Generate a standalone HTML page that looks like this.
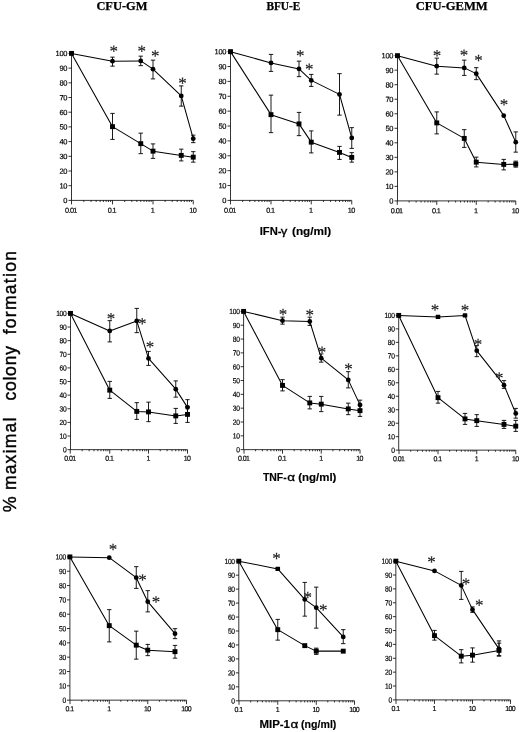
<!DOCTYPE html>
<html lang="en">
<head>
<meta charset="utf-8">
<title>Colony formation figure</title>
<style>
html,body{margin:0;padding:0;background:#fff;}
body{width:520px;height:732px;overflow:hidden;}
svg{display:block;filter:blur(0.35px);}
.tl text{font-family:"Liberation Sans",sans-serif;fill:#000;letter-spacing:-0.3px;stroke:#000;stroke-width:0.18px;}
.st text{font-family:"Liberation Serif",serif;fill:#222;stroke:#222;stroke-width:0.15px;}
.ttl text{font-family:"Liberation Serif",serif;font-weight:bold;fill:#000;stroke:#000;stroke-width:0.25px;}
.xl text{font-family:"Liberation Sans",sans-serif;font-weight:bold;fill:#000;stroke:#000;stroke-width:0.15px;}
.xl text.gk{font-weight:normal;stroke-width:0.3px;}
.xtl text{letter-spacing:-0.6px;}
.yl text{font-family:"Liberation Sans",sans-serif;fill:#000;stroke:#000;stroke-width:0.4px;}
</style>
</head>
<body>
<svg width="520" height="732" viewBox="0 0 520 732">
<rect width="520" height="732" fill="#fff"/>
<g class="ttl" font-size="11.5">
<text x="96.4" y="9.7" textLength="51" lengthAdjust="spacingAndGlyphs">CFU-GM</text>
<text x="266.4" y="9.7" textLength="34" lengthAdjust="spacingAndGlyphs">BFU-E</text>
<text x="415.7" y="9.7" textLength="72" lengthAdjust="spacingAndGlyphs">CFU-GEMM</text>
</g>
<g class="xl" font-size="10.8">
<text font-size="11.4" x="259.7" y="235.4" textLength="21.8" lengthAdjust="spacingAndGlyphs">IFN-</text>
<text class="gk" x="280.7" y="235.4" font-size="11.5" textLength="6.6" lengthAdjust="spacingAndGlyphs">γ</text>
<text font-size="11.4" x="292" y="235.4" textLength="39.2" lengthAdjust="spacingAndGlyphs">(ng/ml)</text>
<text x="262.9" y="480.6" textLength="23.8" lengthAdjust="spacingAndGlyphs">TNF-</text>
<text class="gk" x="287.3" y="480.6" font-size="10.5" textLength="7.8" lengthAdjust="spacingAndGlyphs">α</text>
<text x="298.2" y="480.6" textLength="38.2" lengthAdjust="spacingAndGlyphs">(ng/ml)</text>
<text x="259.4" y="727.8" textLength="30.6" lengthAdjust="spacingAndGlyphs">MIP-1</text>
<text class="gk" x="290.5" y="727.8" font-size="10.5" textLength="7.8" lengthAdjust="spacingAndGlyphs">α</text>
<text x="301.1" y="727.8" textLength="35.3" lengthAdjust="spacingAndGlyphs">(ng/ml)</text>
</g>
<g class="yl" font-size="17.5">
<text transform="translate(16 512.2) rotate(-90)" textLength="16" lengthAdjust="spacingAndGlyphs">%</text>
<text transform="translate(16 490.1) rotate(-90)" textLength="72.4" lengthAdjust="spacing">maximal</text>
<text transform="translate(16 400.6) rotate(-90)" textLength="54.5" lengthAdjust="spacing">colony</text>
<text transform="translate(16 334.3) rotate(-90)" textLength="83.2" lengthAdjust="spacing">formation</text>
</g>
<g transform="translate(0 0.15)">
<path d="M71.5 53.25V200.25H193.25" fill="none" stroke="#000" stroke-width="0.8"/>
<path d="M68.5 200.25H71.5M68.5 185.55H71.5M68.5 170.85H71.5M68.5 156.15H71.5M68.5 141.45H71.5M68.5 126.75H71.5M68.5 112.05H71.5M68.5 97.35H71.5M68.5 82.65H71.5M68.5 67.95H71.5M68.5 53.25H71.5M71.5 200.25v4.0M83.84 200.25v1.6M91.06 200.25v1.6M96.18 200.25v1.6M100.16 200.25v1.6M103.4 200.25v1.6M106.15 200.25v1.6M108.53 200.25v1.6M110.62 200.25v1.6M112.5 200.25v4.0M124.69 200.25v1.6M131.82 200.25v1.6M136.88 200.25v1.6M140.81 200.25v1.6M144.02 200.25v1.6M146.73 200.25v1.6M149.08 200.25v1.6M151.15 200.25v1.6M153 200.25v4.0M165.12 200.25v1.6M172.2 200.25v1.6M177.23 200.25v1.6M181.13 200.25v1.6M184.32 200.25v1.6M187.02 200.25v1.6M189.35 200.25v1.6M191.41 200.25v1.6M193.25 200.25v4.0" fill="none" stroke="#000" stroke-width="0.8"/>
<g font-size="7.5" text-anchor="end" class="tl">
<text transform="translate(67.2 202.95) rotate(0.03)">0</text>
<text transform="translate(67.2 188.25) rotate(0.03)">10</text>
<text transform="translate(67.2 173.55) rotate(0.03)">20</text>
<text transform="translate(67.2 158.85) rotate(0.03)">30</text>
<text transform="translate(67.2 144.15) rotate(0.03)">40</text>
<text transform="translate(67.2 129.45) rotate(0.03)">50</text>
<text transform="translate(67.2 114.75) rotate(0.03)">60</text>
<text transform="translate(67.2 100.05) rotate(0.03)">70</text>
<text transform="translate(67.2 85.35) rotate(0.03)">80</text>
<text transform="translate(67.2 70.65) rotate(0.03)">90</text>
<text transform="translate(67.2 55.95) rotate(0.03)">100</text>
</g>
<g font-size="7.3" text-anchor="middle" class="tl xtl">
<text transform="translate(70.9 212.65) rotate(0.03)">0.01</text>
<text transform="translate(111.9 212.65) rotate(0.03)">0.1</text>
<text transform="translate(152.4 212.65) rotate(0.03)">1</text>
<text transform="translate(192.65 212.65) rotate(0.03)">10</text>
</g>
<path d="M71.5 53.25L112.5 126.5L140.75 143.5L153 151L181.25 155.25L193.25 157" fill="none" stroke="#000" stroke-width="1.05" stroke-linejoin="round"/>
<path d="M112.5 113.25V139.25M110.3 113.25h4.4M110.3 139.25h4.4M140.75 133V153.5M138.55 133h4.4M138.55 153.5h4.4M153 143.75V158.25M150.8 143.75h4.4M150.8 158.25h4.4M181.25 149V160.75M179.05 149h4.4M179.05 160.75h4.4M193.25 151.5V162M191.05 151.5h4.4M191.05 162h4.4" fill="none" stroke="#000" stroke-width="0.9"/>
<rect x="110.05" y="124.05" width="4.9" height="4.9" fill="#000"/>
<rect x="138.3" y="141.05" width="4.9" height="4.9" fill="#000"/>
<rect x="150.55" y="148.55" width="4.9" height="4.9" fill="#000"/>
<rect x="178.8" y="152.8" width="4.9" height="4.9" fill="#000"/>
<rect x="190.8" y="154.55" width="4.9" height="4.9" fill="#000"/>
<path d="M71.5 53.25L112.5 61L140.75 60.75L153 69L181.25 95.75L193.25 138.5" fill="none" stroke="#000" stroke-width="1.05" stroke-linejoin="round"/>
<path d="M112.5 57V66M110.3 57h4.4M110.3 66h4.4M140.75 56V65.5M138.55 56h4.4M138.55 65.5h4.4M153 60V78.75M150.8 60h4.4M150.8 78.75h4.4M181.25 85.75V106M179.05 85.75h4.4M179.05 106h4.4M193.25 135V142.5M191.05 135h4.4M191.05 142.5h4.4" fill="none" stroke="#000" stroke-width="0.9"/>
<circle cx="112.5" cy="61" r="2.4" fill="#000"/>
<circle cx="140.75" cy="60.75" r="2.4" fill="#000"/>
<circle cx="153" cy="69" r="2.4" fill="#000"/>
<circle cx="181.25" cy="95.75" r="2.4" fill="#000"/>
<circle cx="193.25" cy="138.5" r="2.4" fill="#000"/>
<rect x="69.05" y="50.8" width="4.9" height="4.9" fill="#000"/>
<g class="st" font-size="17.0" text-anchor="middle">
<text transform="translate(113.75 56.66) rotate(0.03)">*</text>
<text transform="translate(141.75 56.66) rotate(0.03)">*</text>
<text transform="translate(155.25 61.41) rotate(0.03)">*</text>
<text transform="translate(182.5 88.66) rotate(0.03)">*</text>
</g>
</g>
<g transform="translate(0 0.15)">
<path d="M230.5 51.5V200.25H351.75" fill="none" stroke="#000" stroke-width="0.8"/>
<path d="M227.5 200.25H230.5M227.5 185.38H230.5M227.5 170.5H230.5M227.5 155.62H230.5M227.5 140.75H230.5M227.5 125.88H230.5M227.5 111H230.5M227.5 96.12H230.5M227.5 81.25H230.5M227.5 66.38H230.5M227.5 51.5H230.5M230.5 200.25v4.0M242.69 200.25v1.6M249.82 200.25v1.6M254.88 200.25v1.6M258.81 200.25v1.6M262.02 200.25v1.6M264.73 200.25v1.6M267.08 200.25v1.6M269.15 200.25v1.6M271 200.25v4.0M283.12 200.25v1.6M290.2 200.25v1.6M295.23 200.25v1.6M299.13 200.25v1.6M302.32 200.25v1.6M305.02 200.25v1.6M307.35 200.25v1.6M309.41 200.25v1.6M311.25 200.25v4.0M323.44 200.25v1.6M330.57 200.25v1.6M335.63 200.25v1.6M339.56 200.25v1.6M342.77 200.25v1.6M345.48 200.25v1.6M347.83 200.25v1.6M349.9 200.25v1.6M351.75 200.25v4.0" fill="none" stroke="#000" stroke-width="0.8"/>
<g font-size="7.5" text-anchor="end" class="tl">
<text transform="translate(226.2 202.95) rotate(0.03)">0</text>
<text transform="translate(226.2 188.07) rotate(0.03)">10</text>
<text transform="translate(226.2 173.2) rotate(0.03)">20</text>
<text transform="translate(226.2 158.32) rotate(0.03)">30</text>
<text transform="translate(226.2 143.45) rotate(0.03)">40</text>
<text transform="translate(226.2 128.57) rotate(0.03)">50</text>
<text transform="translate(226.2 113.7) rotate(0.03)">60</text>
<text transform="translate(226.2 98.83) rotate(0.03)">70</text>
<text transform="translate(226.2 83.95) rotate(0.03)">80</text>
<text transform="translate(226.2 69.08) rotate(0.03)">90</text>
<text transform="translate(226.2 54.2) rotate(0.03)">100</text>
</g>
<g font-size="7.3" text-anchor="middle" class="tl xtl">
<text transform="translate(229.9 212.65) rotate(0.03)">0.01</text>
<text transform="translate(270.4 212.65) rotate(0.03)">0.1</text>
<text transform="translate(310.65 212.65) rotate(0.03)">1</text>
<text transform="translate(351.15 212.65) rotate(0.03)">10</text>
</g>
<path d="M230.5 51.5L271 114.5L299 123.75L311.25 142L339.5 152.25L351.75 157.25" fill="none" stroke="#000" stroke-width="1.05" stroke-linejoin="round"/>
<path d="M271 95V132.5M268.8 95h4.4M268.8 132.5h4.4M299 112.25V135.5M296.8 112.25h4.4M296.8 135.5h4.4M311.25 130.75V152.75M309.05 130.75h4.4M309.05 152.75h4.4M339.5 146.25V159.25M337.3 146.25h4.4M337.3 159.25h4.4M351.75 152.5V162M349.55 152.5h4.4M349.55 162h4.4" fill="none" stroke="#000" stroke-width="0.9"/>
<rect x="268.55" y="112.05" width="4.9" height="4.9" fill="#000"/>
<rect x="296.55" y="121.3" width="4.9" height="4.9" fill="#000"/>
<rect x="308.8" y="139.55" width="4.9" height="4.9" fill="#000"/>
<rect x="337.05" y="149.8" width="4.9" height="4.9" fill="#000"/>
<rect x="349.3" y="154.8" width="4.9" height="4.9" fill="#000"/>
<path d="M230.5 51.5L271 62.75L299 68.75L311.25 80.25L339.5 94.25L351.75 137.75" fill="none" stroke="#000" stroke-width="1.05" stroke-linejoin="round"/>
<path d="M271 54.25V71.25M268.8 54.25h4.4M268.8 71.25h4.4M299 61V76.5M296.8 61h4.4M296.8 76.5h4.4M311.25 74.25V86.25M309.05 74.25h4.4M309.05 86.25h4.4M339.5 73.5V115M337.3 73.5h4.4M337.3 115h4.4M351.75 127.5V148.25M349.55 127.5h4.4M349.55 148.25h4.4" fill="none" stroke="#000" stroke-width="0.9"/>
<circle cx="271" cy="62.75" r="2.4" fill="#000"/>
<circle cx="299" cy="68.75" r="2.4" fill="#000"/>
<circle cx="311.25" cy="80.25" r="2.4" fill="#000"/>
<circle cx="339.5" cy="94.25" r="2.4" fill="#000"/>
<circle cx="351.75" cy="137.75" r="2.4" fill="#000"/>
<rect x="228.05" y="49.05" width="4.9" height="4.9" fill="#000"/>
<g class="st" font-size="17.0" text-anchor="middle">
<text transform="translate(300.25 61.16) rotate(0.03)">*</text>
<text transform="translate(309.25 74.66) rotate(0.03)">*</text>
</g>
</g>
<g transform="translate(0 0.15)">
<path d="M397.5 55.5V200.75H515.75" fill="none" stroke="#000" stroke-width="0.8"/>
<path d="M394.5 200.75H397.5M394.5 186.22H397.5M394.5 171.7H397.5M394.5 157.18H397.5M394.5 142.65H397.5M394.5 128.12H397.5M394.5 113.6H397.5M394.5 99.08H397.5M394.5 84.55H397.5M394.5 70.03H397.5M394.5 55.5H397.5M397.25 200.75v4.0M409.14 200.75v1.6M416.1 200.75v1.6M421.03 200.75v1.6M424.86 200.75v1.6M427.99 200.75v1.6M430.63 200.75v1.6M432.92 200.75v1.6M434.94 200.75v1.6M436.75 200.75v4.0M448.64 200.75v1.6M455.6 200.75v1.6M460.53 200.75v1.6M464.36 200.75v1.6M467.49 200.75v1.6M470.13 200.75v1.6M472.42 200.75v1.6M474.44 200.75v1.6M476.25 200.75v4.0M488.14 200.75v1.6M495.1 200.75v1.6M500.03 200.75v1.6M503.86 200.75v1.6M506.99 200.75v1.6M509.63 200.75v1.6M511.92 200.75v1.6M513.94 200.75v1.6M515.75 200.75v4.0" fill="none" stroke="#000" stroke-width="0.8"/>
<g font-size="7.5" text-anchor="end" class="tl">
<text transform="translate(393.2 203.45) rotate(0.03)">0</text>
<text transform="translate(393.2 188.92) rotate(0.03)">10</text>
<text transform="translate(393.2 174.4) rotate(0.03)">20</text>
<text transform="translate(393.2 159.88) rotate(0.03)">30</text>
<text transform="translate(393.2 145.35) rotate(0.03)">40</text>
<text transform="translate(393.2 130.82) rotate(0.03)">50</text>
<text transform="translate(393.2 116.3) rotate(0.03)">60</text>
<text transform="translate(393.2 101.78) rotate(0.03)">70</text>
<text transform="translate(393.2 87.25) rotate(0.03)">80</text>
<text transform="translate(393.2 72.73) rotate(0.03)">90</text>
<text transform="translate(393.2 58.2) rotate(0.03)">100</text>
</g>
<g font-size="7.3" text-anchor="middle" class="tl xtl">
<text transform="translate(396.65 213.15) rotate(0.03)">0.01</text>
<text transform="translate(436.15 213.15) rotate(0.03)">0.1</text>
<text transform="translate(475.65 213.15) rotate(0.03)">1</text>
<text transform="translate(515.15 213.15) rotate(0.03)">10</text>
</g>
<path d="M397.5 55.5L436.75 122.75L464.25 138.25L476.25 162L503.75 164.25L515.75 164" fill="none" stroke="#000" stroke-width="1.05" stroke-linejoin="round"/>
<path d="M436.75 111.75V133.75M434.55 111.75h4.4M434.55 133.75h4.4M464.25 129.5V147.25M462.05 129.5h4.4M462.05 147.25h4.4M476.25 157V166.75M474.05 157h4.4M474.05 166.75h4.4M503.75 159.25V169.75M501.55 159.25h4.4M501.55 169.75h4.4M515.75 161V167M513.55 161h4.4M513.55 167h4.4" fill="none" stroke="#000" stroke-width="0.9"/>
<rect x="434.3" y="120.3" width="4.9" height="4.9" fill="#000"/>
<rect x="461.8" y="135.8" width="4.9" height="4.9" fill="#000"/>
<rect x="473.8" y="159.55" width="4.9" height="4.9" fill="#000"/>
<rect x="501.3" y="161.8" width="4.9" height="4.9" fill="#000"/>
<rect x="513.3" y="161.55" width="4.9" height="4.9" fill="#000"/>
<path d="M397.5 55.5L436.75 66L464.25 67.75L476.25 73.5L503.75 115.5L515.75 142" fill="none" stroke="#000" stroke-width="1.05" stroke-linejoin="round"/>
<path d="M436.75 58V74M434.55 58h4.4M434.55 74h4.4M464.25 60V75.25M462.05 60h4.4M462.05 75.25h4.4M476.25 67.5V79.5M474.05 67.5h4.4M474.05 79.5h4.4M515.75 131.75V152M513.55 131.75h4.4M513.55 152h4.4" fill="none" stroke="#000" stroke-width="0.9"/>
<circle cx="436.75" cy="66" r="2.4" fill="#000"/>
<circle cx="464.25" cy="67.75" r="2.4" fill="#000"/>
<circle cx="476.25" cy="73.5" r="2.4" fill="#000"/>
<circle cx="503.75" cy="115.5" r="2.4" fill="#000"/>
<circle cx="515.75" cy="142" r="2.4" fill="#000"/>
<rect x="395.05" y="53.05" width="4.9" height="4.9" fill="#000"/>
<g class="st" font-size="17.0" text-anchor="middle">
<text transform="translate(437 61.16) rotate(0.03)">*</text>
<text transform="translate(464 60.66) rotate(0.03)">*</text>
<text transform="translate(478.5 65.91) rotate(0.03)">*</text>
<text transform="translate(504 110.16) rotate(0.03)">*</text>
</g>
</g>
<g transform="translate(0 0.15)">
<path d="M70.5 313.25V449.5H187.5" fill="none" stroke="#000" stroke-width="0.8"/>
<path d="M67.5 449.5H70.5M67.5 435.88H70.5M67.5 422.25H70.5M67.5 408.62H70.5M67.5 395H70.5M67.5 381.38H70.5M67.5 367.75H70.5M67.5 354.12H70.5M67.5 340.5H70.5M67.5 326.88H70.5M67.5 313.25H70.5M70.25 449.5v4.0M82.14 449.5v1.6M89.1 449.5v1.6M94.03 449.5v1.6M97.86 449.5v1.6M100.99 449.5v1.6M103.63 449.5v1.6M105.92 449.5v1.6M107.94 449.5v1.6M109.75 449.5v4.0M121.41 449.5v1.6M128.24 449.5v1.6M133.08 449.5v1.6M136.84 449.5v1.6M139.9 449.5v1.6M142.5 449.5v1.6M144.74 449.5v1.6M146.73 449.5v1.6M148.5 449.5v4.0M160.24 449.5v1.6M167.11 449.5v1.6M171.98 449.5v1.6M175.76 449.5v1.6M178.85 449.5v1.6M181.46 449.5v1.6M183.72 449.5v1.6M185.72 449.5v1.6M187.5 449.5v4.0" fill="none" stroke="#000" stroke-width="0.8"/>
<g font-size="7.5" text-anchor="end" class="tl">
<text transform="translate(66.5 452.2) rotate(0.03) scale(0.89 1)">0</text>
<text transform="translate(66.5 438.57) rotate(0.03) scale(0.89 1)">10</text>
<text transform="translate(66.5 424.95) rotate(0.03) scale(0.89 1)">20</text>
<text transform="translate(66.5 411.32) rotate(0.03) scale(0.89 1)">30</text>
<text transform="translate(66.5 397.7) rotate(0.03) scale(0.89 1)">40</text>
<text transform="translate(66.5 384.07) rotate(0.03) scale(0.89 1)">50</text>
<text transform="translate(66.5 370.45) rotate(0.03) scale(0.89 1)">60</text>
<text transform="translate(66.5 356.82) rotate(0.03) scale(0.89 1)">70</text>
<text transform="translate(66.5 343.2) rotate(0.03) scale(0.89 1)">80</text>
<text transform="translate(66.5 329.57) rotate(0.03) scale(0.89 1)">90</text>
<text transform="translate(66.5 315.95) rotate(0.03) scale(0.89 1)">100</text>
</g>
<g font-size="7.3" text-anchor="middle" class="tl xtl">
<text transform="translate(69.85 460.6) rotate(0.03) scale(0.96 1)">0.01</text>
<text transform="translate(109.35 460.6) rotate(0.03) scale(0.96 1)">0.1</text>
<text transform="translate(148.1 460.6) rotate(0.03) scale(0.96 1)">1</text>
<text transform="translate(187.1 460.6) rotate(0.03) scale(0.96 1)">10</text>
</g>
<path d="M70.5 313.25L109.75 390L136.75 411.25L148.5 411.75L175.75 415.75L187.5 414.25" fill="none" stroke="#000" stroke-width="1.05" stroke-linejoin="round"/>
<path d="M109.75 381.25V398.25M107.55 381.25h4.4M107.55 398.25h4.4M136.75 402.5V419.25M134.55 402.5h4.4M134.55 419.25h4.4M148.5 402V421.5M146.3 402h4.4M146.3 421.5h4.4M175.75 408.25V423.25M173.55 408.25h4.4M173.55 423.25h4.4M187.5 406.25V422.25M185.3 406.25h4.4M185.3 422.25h4.4" fill="none" stroke="#000" stroke-width="0.9"/>
<rect x="107.3" y="387.55" width="4.9" height="4.9" fill="#000"/>
<rect x="134.3" y="408.8" width="4.9" height="4.9" fill="#000"/>
<rect x="146.05" y="409.3" width="4.9" height="4.9" fill="#000"/>
<rect x="173.3" y="413.3" width="4.9" height="4.9" fill="#000"/>
<rect x="185.05" y="411.8" width="4.9" height="4.9" fill="#000"/>
<path d="M70.5 313.25L109.75 330.75L136.75 320.75L148.5 358.25L175.75 389L187.5 407.25" fill="none" stroke="#000" stroke-width="1.05" stroke-linejoin="round"/>
<path d="M109.75 320.5V341.75M107.55 320.5h4.4M107.55 341.75h4.4M136.75 308.25V332.5M134.55 308.25h4.4M134.55 332.5h4.4M148.5 351.25V365.25M146.3 351.25h4.4M146.3 365.25h4.4M175.75 380.75V397M173.55 380.75h4.4M173.55 397h4.4M187.5 399.5V414M185.3 399.5h4.4M185.3 414h4.4" fill="none" stroke="#000" stroke-width="0.9"/>
<circle cx="109.75" cy="330.75" r="2.4" fill="#000"/>
<circle cx="136.75" cy="320.75" r="2.4" fill="#000"/>
<circle cx="148.5" cy="358.25" r="2.4" fill="#000"/>
<circle cx="175.75" cy="389" r="2.4" fill="#000"/>
<circle cx="187.5" cy="407.25" r="2.4" fill="#000"/>
<rect x="68.05" y="310.8" width="4.9" height="4.9" fill="#000"/>
<g class="st" font-size="17.0" text-anchor="middle">
<text transform="translate(111 324.16) rotate(0.03)">*</text>
<text transform="translate(142.25 329.16) rotate(0.03)">*</text>
<text transform="translate(150 352.41) rotate(0.03)">*</text>
</g>
</g>
<g transform="translate(0 0.15)">
<path d="M243.6 311.25V449.5H360" fill="none" stroke="#000" stroke-width="0.8"/>
<path d="M240.6 449.5H243.6M240.6 435.68H243.6M240.6 421.85H243.6M240.6 408.02H243.6M240.6 394.2H243.6M240.6 380.38H243.6M240.6 366.55H243.6M240.6 352.73H243.6M240.6 338.9H243.6M240.6 325.07H243.6M240.6 311.25H243.6M244 449.5v4.0M255.59 449.5v1.6M262.37 449.5v1.6M267.18 449.5v1.6M270.91 449.5v1.6M273.96 449.5v1.6M276.54 449.5v1.6M278.77 449.5v1.6M280.74 449.5v1.6M282.5 449.5v4.0M294.16 449.5v1.6M300.99 449.5v1.6M305.83 449.5v1.6M309.59 449.5v1.6M312.65 449.5v1.6M315.25 449.5v1.6M317.49 449.5v1.6M319.48 449.5v1.6M321.25 449.5v4.0M332.91 449.5v1.6M339.74 449.5v1.6M344.58 449.5v1.6M348.34 449.5v1.6M351.4 449.5v1.6M354 449.5v1.6M356.24 449.5v1.6M358.23 449.5v1.6M360 449.5v4.0" fill="none" stroke="#000" stroke-width="0.8"/>
<g font-size="7.5" text-anchor="end" class="tl">
<text transform="translate(239.6 452.2) rotate(0.03) scale(0.89 1)">0</text>
<text transform="translate(239.6 438.38) rotate(0.03) scale(0.89 1)">10</text>
<text transform="translate(239.6 424.55) rotate(0.03) scale(0.89 1)">20</text>
<text transform="translate(239.6 410.72) rotate(0.03) scale(0.89 1)">30</text>
<text transform="translate(239.6 396.9) rotate(0.03) scale(0.89 1)">40</text>
<text transform="translate(239.6 383.07) rotate(0.03) scale(0.89 1)">50</text>
<text transform="translate(239.6 369.25) rotate(0.03) scale(0.89 1)">60</text>
<text transform="translate(239.6 355.43) rotate(0.03) scale(0.89 1)">70</text>
<text transform="translate(239.6 341.6) rotate(0.03) scale(0.89 1)">80</text>
<text transform="translate(239.6 327.77) rotate(0.03) scale(0.89 1)">90</text>
<text transform="translate(239.6 313.95) rotate(0.03) scale(0.89 1)">100</text>
</g>
<g font-size="7.3" text-anchor="middle" class="tl xtl">
<text transform="translate(243.6 460.6) rotate(0.03) scale(0.96 1)">0.01</text>
<text transform="translate(282.1 460.6) rotate(0.03) scale(0.96 1)">0.1</text>
<text transform="translate(320.85 460.6) rotate(0.03) scale(0.96 1)">1</text>
<text transform="translate(359.6 460.6) rotate(0.03) scale(0.96 1)">10</text>
</g>
<path d="M243.6 311.25L282.5 385.25L309.75 402.75L321.25 404L348.25 408.75L360 410.5" fill="none" stroke="#000" stroke-width="1.05" stroke-linejoin="round"/>
<path d="M282.5 379.5V390.75M280.3 379.5h4.4M280.3 390.75h4.4M309.75 396.25V408.75M307.55 396.25h4.4M307.55 408.75h4.4M321.25 396.25V411.5M319.05 396.25h4.4M319.05 411.5h4.4M348.25 403V414.5M346.05 403h4.4M346.05 414.5h4.4M360 405V416.25M357.8 405h4.4M357.8 416.25h4.4" fill="none" stroke="#000" stroke-width="0.9"/>
<rect x="280.05" y="382.8" width="4.9" height="4.9" fill="#000"/>
<rect x="307.3" y="400.3" width="4.9" height="4.9" fill="#000"/>
<rect x="318.8" y="401.55" width="4.9" height="4.9" fill="#000"/>
<rect x="345.8" y="406.3" width="4.9" height="4.9" fill="#000"/>
<rect x="357.55" y="408.05" width="4.9" height="4.9" fill="#000"/>
<path d="M243.6 311.25L282.5 320.5L309.75 321.25L321.25 358L348.25 379.75L360 404.75" fill="none" stroke="#000" stroke-width="1.05" stroke-linejoin="round"/>
<path d="M282.5 317V324M280.3 317h4.4M280.3 324h4.4M309.75 317V325.25M307.55 317h4.4M307.55 325.25h4.4M321.25 353.75V362M319.05 353.75h4.4M319.05 362h4.4M348.25 371.5V387.75M346.05 371.5h4.4M346.05 387.75h4.4M360 400V409.5M357.8 400h4.4M357.8 409.5h4.4" fill="none" stroke="#000" stroke-width="0.9"/>
<circle cx="282.5" cy="320.5" r="2.4" fill="#000"/>
<circle cx="309.75" cy="321.25" r="2.4" fill="#000"/>
<circle cx="321.25" cy="358" r="2.4" fill="#000"/>
<circle cx="348.25" cy="379.75" r="2.4" fill="#000"/>
<circle cx="360" cy="404.75" r="2.4" fill="#000"/>
<rect x="241.15" y="308.8" width="4.9" height="4.9" fill="#000"/>
<g class="st" font-size="17.0" text-anchor="middle">
<text transform="translate(283 319.91) rotate(0.03)">*</text>
<text transform="translate(309.75 320.41) rotate(0.03)">*</text>
<text transform="translate(322 357.66) rotate(0.03)">*</text>
<text transform="translate(348.5 374.41) rotate(0.03)">*</text>
</g>
</g>
<g transform="translate(0 0.15)">
<path d="M398.7 315.25V450H515.75" fill="none" stroke="#000" stroke-width="0.8"/>
<path d="M395.7 450H398.7M395.7 436.52H398.7M395.7 423.05H398.7M395.7 409.57H398.7M395.7 396.1H398.7M395.7 382.62H398.7M395.7 369.15H398.7M395.7 355.68H398.7M395.7 342.2H398.7M395.7 328.73H398.7M395.7 315.25H398.7M399 450v4.0M410.74 450v1.6M417.61 450v1.6M422.48 450v1.6M426.26 450v1.6M429.35 450v1.6M431.96 450v1.6M434.22 450v1.6M436.22 450v1.6M438 450v4.0M449.66 450v1.6M456.49 450v1.6M461.33 450v1.6M465.09 450v1.6M468.15 450v1.6M470.75 450v1.6M472.99 450v1.6M474.98 450v1.6M476.75 450v4.0M488.49 450v1.6M495.36 450v1.6M500.23 450v1.6M504.01 450v1.6M507.1 450v1.6M509.71 450v1.6M511.97 450v1.6M513.97 450v1.6M515.75 450v4.0" fill="none" stroke="#000" stroke-width="0.8"/>
<g font-size="7.5" text-anchor="end" class="tl">
<text transform="translate(394.7 452.7) rotate(0.03) scale(0.89 1)">0</text>
<text transform="translate(394.7 439.22) rotate(0.03) scale(0.89 1)">10</text>
<text transform="translate(394.7 425.75) rotate(0.03) scale(0.89 1)">20</text>
<text transform="translate(394.7 412.27) rotate(0.03) scale(0.89 1)">30</text>
<text transform="translate(394.7 398.8) rotate(0.03) scale(0.89 1)">40</text>
<text transform="translate(394.7 385.32) rotate(0.03) scale(0.89 1)">50</text>
<text transform="translate(394.7 371.85) rotate(0.03) scale(0.89 1)">60</text>
<text transform="translate(394.7 358.38) rotate(0.03) scale(0.89 1)">70</text>
<text transform="translate(394.7 344.9) rotate(0.03) scale(0.89 1)">80</text>
<text transform="translate(394.7 331.43) rotate(0.03) scale(0.89 1)">90</text>
<text transform="translate(394.7 317.95) rotate(0.03) scale(0.89 1)">100</text>
</g>
<g font-size="7.3" text-anchor="middle" class="tl xtl">
<text transform="translate(398.6 461.1) rotate(0.03) scale(0.96 1)">0.01</text>
<text transform="translate(437.6 461.1) rotate(0.03) scale(0.96 1)">0.1</text>
<text transform="translate(476.35 461.1) rotate(0.03) scale(0.96 1)">1</text>
<text transform="translate(515.35 461.1) rotate(0.03) scale(0.96 1)">10</text>
</g>
<path d="M398.7 315.25L438 397.5L465 418.75L476.75 420.5L504 424.25L515.75 426" fill="none" stroke="#000" stroke-width="1.05" stroke-linejoin="round"/>
<path d="M438 391.25V403M435.8 391.25h4.4M435.8 403h4.4M465 413.25V424.25M462.8 413.25h4.4M462.8 424.25h4.4M476.75 414.5V426.25M474.55 414.5h4.4M474.55 426.25h4.4M504 420.25V428.25M501.8 420.25h4.4M501.8 428.25h4.4M515.75 420.25V431.25M513.55 420.25h4.4M513.55 431.25h4.4" fill="none" stroke="#000" stroke-width="0.9"/>
<rect x="435.55" y="395.05" width="4.9" height="4.9" fill="#000"/>
<rect x="462.55" y="416.3" width="4.9" height="4.9" fill="#000"/>
<rect x="474.3" y="418.05" width="4.9" height="4.9" fill="#000"/>
<rect x="501.55" y="421.8" width="4.9" height="4.9" fill="#000"/>
<rect x="513.3" y="423.55" width="4.9" height="4.9" fill="#000"/>
<path d="M398.7 315.25L438 316.75L465 315.25L476.75 350.5L504 385L515.75 413.25" fill="none" stroke="#000" stroke-width="1.05" stroke-linejoin="round"/>
<path d="M476.75 345.5V356.5M474.55 345.5h4.4M474.55 356.5h4.4M504 380.5V388.25M501.8 380.5h4.4M501.8 388.25h4.4M515.75 408.25V418M513.55 408.25h4.4M513.55 418h4.4" fill="none" stroke="#000" stroke-width="0.9"/>
<rect x="435.7" y="314.55" width="4.6" height="4.4" rx="0.7" fill="#000"/>
<rect x="462.7" y="313.05" width="4.6" height="4.4" rx="0.7" fill="#000"/>
<circle cx="476.75" cy="350.5" r="2.4" fill="#000"/>
<circle cx="504" cy="385" r="2.4" fill="#000"/>
<circle cx="515.75" cy="413.25" r="2.4" fill="#000"/>
<rect x="396.25" y="312.8" width="4.9" height="4.9" fill="#000"/>
<g class="st" font-size="17.0" text-anchor="middle">
<text transform="translate(435 315.41) rotate(0.03)">*</text>
<text transform="translate(465 315.66) rotate(0.03)">*</text>
<text transform="translate(478 349.91) rotate(0.03)">*</text>
<text transform="translate(499.25 383.41) rotate(0.03)">*</text>
</g>
</g>
<g transform="translate(0 0.15)">
<path d="M69.9 556.75V700H186.5" fill="none" stroke="#000" stroke-width="0.8"/>
<path d="M66.9 700H69.9M66.9 685.67H69.9M66.9 671.35H69.9M66.9 657.02H69.9M66.9 642.7H69.9M66.9 628.38H69.9M66.9 614.05H69.9M66.9 599.73H69.9M66.9 585.4H69.9M66.9 571.08H69.9M66.9 556.75H69.9M70 700v4.0M81.82 700v1.6M88.73 700v1.6M93.63 700v1.6M97.43 700v1.6M100.54 700v1.6M103.17 700v1.6M105.45 700v1.6M107.45 700v1.6M109.25 700v4.0M120.84 700v1.6M127.62 700v1.6M132.43 700v1.6M136.16 700v1.6M139.21 700v1.6M141.79 700v1.6M144.02 700v1.6M145.99 700v1.6M147.75 700v4.0M159.41 700v1.6M166.24 700v1.6M171.08 700v1.6M174.84 700v1.6M177.9 700v1.6M180.5 700v1.6M182.74 700v1.6M184.73 700v1.6M186.5 700v4.0" fill="none" stroke="#000" stroke-width="0.8"/>
<g font-size="7.5" text-anchor="end" class="tl">
<text transform="translate(65.9 702.7) rotate(0.03) scale(0.89 1)">0</text>
<text transform="translate(65.9 688.38) rotate(0.03) scale(0.89 1)">10</text>
<text transform="translate(65.9 674.05) rotate(0.03) scale(0.89 1)">20</text>
<text transform="translate(65.9 659.73) rotate(0.03) scale(0.89 1)">30</text>
<text transform="translate(65.9 645.4) rotate(0.03) scale(0.89 1)">40</text>
<text transform="translate(65.9 631.08) rotate(0.03) scale(0.89 1)">50</text>
<text transform="translate(65.9 616.75) rotate(0.03) scale(0.89 1)">60</text>
<text transform="translate(65.9 602.43) rotate(0.03) scale(0.89 1)">70</text>
<text transform="translate(65.9 588.1) rotate(0.03) scale(0.89 1)">80</text>
<text transform="translate(65.9 573.78) rotate(0.03) scale(0.89 1)">90</text>
<text transform="translate(65.9 559.45) rotate(0.03) scale(0.89 1)">100</text>
</g>
<g font-size="7.3" text-anchor="middle" class="tl xtl">
<text transform="translate(69.6 711.1) rotate(0.03) scale(0.96 1)">0.1</text>
<text transform="translate(108.85 711.1) rotate(0.03) scale(0.96 1)">1</text>
<text transform="translate(147.35 711.1) rotate(0.03) scale(0.96 1)">10</text>
<text transform="translate(186.1 711.1) rotate(0.03) scale(0.96 1)">100</text>
</g>
<path d="M69.9 556.75L109.25 625.5L136.25 645L147.75 650L175 651.5" fill="none" stroke="#000" stroke-width="1.05" stroke-linejoin="round"/>
<path d="M109.25 609.5V641.75M107.05 609.5h4.4M107.05 641.75h4.4M136.25 631V659M134.05 631h4.4M134.05 659h4.4M147.75 644.25V655.5M145.55 644.25h4.4M145.55 655.5h4.4M175 645.25V658M172.8 645.25h4.4M172.8 658h4.4" fill="none" stroke="#000" stroke-width="0.9"/>
<rect x="106.8" y="623.05" width="4.9" height="4.9" fill="#000"/>
<rect x="133.8" y="642.55" width="4.9" height="4.9" fill="#000"/>
<rect x="145.3" y="647.55" width="4.9" height="4.9" fill="#000"/>
<rect x="172.55" y="649.05" width="4.9" height="4.9" fill="#000"/>
<path d="M69.9 556.75L109.25 557.5L136.25 577.5L147.75 601.5L175 633.5" fill="none" stroke="#000" stroke-width="1.05" stroke-linejoin="round"/>
<path d="M136.25 566.5V588.25M134.05 566.5h4.4M134.05 588.25h4.4M147.75 590.5V611.75M145.55 590.5h4.4M145.55 611.75h4.4M175 628.5V638.5M172.8 628.5h4.4M172.8 638.5h4.4" fill="none" stroke="#000" stroke-width="0.9"/>
<circle cx="109.25" cy="557.5" r="2.4" fill="#000"/>
<circle cx="136.25" cy="577.5" r="2.4" fill="#000"/>
<circle cx="147.75" cy="601.5" r="2.4" fill="#000"/>
<circle cx="175" cy="633.5" r="2.4" fill="#000"/>
<rect x="67.45" y="554.3" width="4.9" height="4.9" fill="#000"/>
<g class="st" font-size="17.0" text-anchor="middle">
<text transform="translate(113 554.91) rotate(0.03)">*</text>
<text transform="translate(142.5 585.41) rotate(0.03)">*</text>
<text transform="translate(156 607.41) rotate(0.03)">*</text>
</g>
</g>
<g transform="translate(0 0.15)">
<path d="M238.8 561.05V700.65H354.5" fill="none" stroke="#000" stroke-width="0.8"/>
<path d="M235.8 700.65H238.8M235.8 686.69H238.8M235.8 672.73H238.8M235.8 658.77H238.8M235.8 644.81H238.8M235.8 630.85H238.8M235.8 616.89H238.8M235.8 602.93H238.8M235.8 588.97H238.8M235.8 575.01H238.8M235.8 561.05H238.8M239 700.65v4.0M250.66 700.65v1.6M257.49 700.65v1.6M262.33 700.65v1.6M266.09 700.65v1.6M269.15 700.65v1.6M271.75 700.65v1.6M273.99 700.65v1.6M275.98 700.65v1.6M277.75 700.65v4.0M289.34 700.65v1.6M296.12 700.65v1.6M300.93 700.65v1.6M304.66 700.65v1.6M307.71 700.65v1.6M310.29 700.65v1.6M312.52 700.65v1.6M314.49 700.65v1.6M316.25 700.65v4.0M327.76 700.65v1.6M334.5 700.65v1.6M339.28 700.65v1.6M342.99 700.65v1.6M346.01 700.65v1.6M348.58 700.65v1.6M350.79 700.65v1.6M352.75 700.65v1.6M354.5 700.65v4.0" fill="none" stroke="#000" stroke-width="0.8"/>
<g font-size="7.5" text-anchor="end" class="tl">
<text transform="translate(234.8 703.35) rotate(0.03) scale(0.89 1)">0</text>
<text transform="translate(234.8 689.39) rotate(0.03) scale(0.89 1)">10</text>
<text transform="translate(234.8 675.43) rotate(0.03) scale(0.89 1)">20</text>
<text transform="translate(234.8 661.47) rotate(0.03) scale(0.89 1)">30</text>
<text transform="translate(234.8 647.51) rotate(0.03) scale(0.89 1)">40</text>
<text transform="translate(234.8 633.55) rotate(0.03) scale(0.89 1)">50</text>
<text transform="translate(234.8 619.59) rotate(0.03) scale(0.89 1)">60</text>
<text transform="translate(234.8 605.63) rotate(0.03) scale(0.89 1)">70</text>
<text transform="translate(234.8 591.67) rotate(0.03) scale(0.89 1)">80</text>
<text transform="translate(234.8 577.71) rotate(0.03) scale(0.89 1)">90</text>
<text transform="translate(234.8 563.75) rotate(0.03) scale(0.89 1)">100</text>
</g>
<g font-size="7.3" text-anchor="middle" class="tl xtl">
<text transform="translate(238.6 711.75) rotate(0.03) scale(0.96 1)">0.1</text>
<text transform="translate(277.35 711.75) rotate(0.03) scale(0.96 1)">1</text>
<text transform="translate(315.85 711.75) rotate(0.03) scale(0.96 1)">10</text>
<text transform="translate(354.1 711.75) rotate(0.03) scale(0.96 1)">100</text>
</g>
<path d="M238.8 561.05L277.75 629.5L304.75 645.5L316.25 651L343.25 651" fill="none" stroke="#000" stroke-width="1.05" stroke-linejoin="round"/>
<path d="M277.75 619.25V640M275.55 619.25h4.4M275.55 640h4.4M316.25 648V654.25M314.05 648h4.4M314.05 654.25h4.4" fill="none" stroke="#000" stroke-width="0.9"/>
<rect x="275.3" y="627.05" width="4.9" height="4.9" fill="#000"/>
<rect x="302.3" y="643.05" width="4.9" height="4.9" fill="#000"/>
<rect x="313.8" y="648.55" width="4.9" height="4.9" fill="#000"/>
<rect x="340.8" y="648.55" width="4.9" height="4.9" fill="#000"/>
<path d="M238.8 561.05L277.75 568.75L304.75 599.25L316.25 607.5L343.25 636.75" fill="none" stroke="#000" stroke-width="1.05" stroke-linejoin="round"/>
<path d="M304.75 582.25V616M302.55 582.25h4.4M302.55 616h4.4M316.25 587V628M314.05 587h4.4M314.05 628h4.4M343.25 629.5V643.5M341.05 629.5h4.4M341.05 643.5h4.4" fill="none" stroke="#000" stroke-width="0.9"/>
<rect x="275.45" y="566.55" width="4.6" height="4.4" rx="0.7" fill="#000"/>
<circle cx="304.75" cy="599.25" r="2.4" fill="#000"/>
<circle cx="316.25" cy="607.5" r="2.4" fill="#000"/>
<circle cx="343.25" cy="636.75" r="2.4" fill="#000"/>
<rect x="236.35" y="558.6" width="4.9" height="4.9" fill="#000"/>
<g class="st" font-size="17.0" text-anchor="middle">
<text transform="translate(276.5 563.91) rotate(0.03)">*</text>
<text transform="translate(307.75 602.91) rotate(0.03)">*</text>
<text transform="translate(323.25 615.41) rotate(0.03)">*</text>
</g>
</g>
<g transform="translate(0 0.15)">
<path d="M395.85 561V699.75H510.5" fill="none" stroke="#000" stroke-width="0.8"/>
<path d="M392.85 699.75H395.85M392.85 685.88H395.85M392.85 672H395.85M392.85 658.12H395.85M392.85 644.25H395.85M392.85 630.38H395.85M392.85 616.5H395.85M392.85 602.62H395.85M392.85 588.75H395.85M392.85 574.88H395.85M392.85 561H395.85M396 699.75v4.0M407.59 699.75v1.6M414.37 699.75v1.6M419.18 699.75v1.6M422.91 699.75v1.6M425.96 699.75v1.6M428.54 699.75v1.6M430.77 699.75v1.6M432.74 699.75v1.6M434.5 699.75v4.0M445.94 699.75v1.6M452.63 699.75v1.6M457.38 699.75v1.6M461.06 699.75v1.6M464.07 699.75v1.6M466.61 699.75v1.6M468.82 699.75v1.6M470.76 699.75v1.6M472.5 699.75v4.0M483.94 699.75v1.6M490.63 699.75v1.6M495.38 699.75v1.6M499.06 699.75v1.6M502.07 699.75v1.6M504.61 699.75v1.6M506.82 699.75v1.6M508.76 699.75v1.6M510.5 699.75v4.0" fill="none" stroke="#000" stroke-width="0.8"/>
<g font-size="7.5" text-anchor="end" class="tl">
<text transform="translate(391.85 702.45) rotate(0.03) scale(0.89 1)">0</text>
<text transform="translate(391.85 688.58) rotate(0.03) scale(0.89 1)">10</text>
<text transform="translate(391.85 674.7) rotate(0.03) scale(0.89 1)">20</text>
<text transform="translate(391.85 660.83) rotate(0.03) scale(0.89 1)">30</text>
<text transform="translate(391.85 646.95) rotate(0.03) scale(0.89 1)">40</text>
<text transform="translate(391.85 633.08) rotate(0.03) scale(0.89 1)">50</text>
<text transform="translate(391.85 619.2) rotate(0.03) scale(0.89 1)">60</text>
<text transform="translate(391.85 605.33) rotate(0.03) scale(0.89 1)">70</text>
<text transform="translate(391.85 591.45) rotate(0.03) scale(0.89 1)">80</text>
<text transform="translate(391.85 577.58) rotate(0.03) scale(0.89 1)">90</text>
<text transform="translate(391.85 563.7) rotate(0.03) scale(0.89 1)">100</text>
</g>
<g font-size="7.3" text-anchor="middle" class="tl xtl">
<text transform="translate(395.6 710.85) rotate(0.03) scale(0.96 1)">0.1</text>
<text transform="translate(434.1 710.85) rotate(0.03) scale(0.96 1)">1</text>
<text transform="translate(472.1 710.85) rotate(0.03) scale(0.96 1)">10</text>
<text transform="translate(510.1 710.85) rotate(0.03) scale(0.96 1)">100</text>
</g>
<path d="M395.85 561L434.5 635.5L461.25 656L472.5 655L499 650.25" fill="none" stroke="#000" stroke-width="1.05" stroke-linejoin="round"/>
<path d="M434.5 630.25V640M432.3 630.25h4.4M432.3 640h4.4M461.25 649.5V662.75M459.05 649.5h4.4M459.05 662.75h4.4M472.5 647.75V662M470.3 647.75h4.4M470.3 662h4.4M499 643V655.5M496.8 643h4.4M496.8 655.5h4.4" fill="none" stroke="#000" stroke-width="0.9"/>
<rect x="432.05" y="633.05" width="4.9" height="4.9" fill="#000"/>
<rect x="458.8" y="653.55" width="4.9" height="4.9" fill="#000"/>
<rect x="470.05" y="652.55" width="4.9" height="4.9" fill="#000"/>
<rect x="496.55" y="647.8" width="4.9" height="4.9" fill="#000"/>
<path d="M395.85 561L434.5 570.75L461.25 585.25L472.5 609.5L499 648.75" fill="none" stroke="#000" stroke-width="1.05" stroke-linejoin="round"/>
<path d="M461.25 571.25V599.25M459.05 571.25h4.4M459.05 599.25h4.4M472.5 606.75V612.25M470.3 606.75h4.4M470.3 612.25h4.4M499 640.75V656M496.8 640.75h4.4M496.8 656h4.4" fill="none" stroke="#000" stroke-width="0.9"/>
<circle cx="434.5" cy="570.75" r="2.4" fill="#000"/>
<circle cx="461.25" cy="585.25" r="2.4" fill="#000"/>
<circle cx="472.5" cy="609.5" r="2.4" fill="#000"/>
<circle cx="499" cy="648.75" r="2.4" fill="#000"/>
<rect x="393.4" y="558.55" width="4.9" height="4.9" fill="#000"/>
<g class="st" font-size="17.0" text-anchor="middle">
<text transform="translate(431.5 567.41) rotate(0.03)">*</text>
<text transform="translate(466 589.41) rotate(0.03)">*</text>
<text transform="translate(479.25 610.66) rotate(0.03)">*</text>
</g>
</g>
</svg>
</body>
</html>
